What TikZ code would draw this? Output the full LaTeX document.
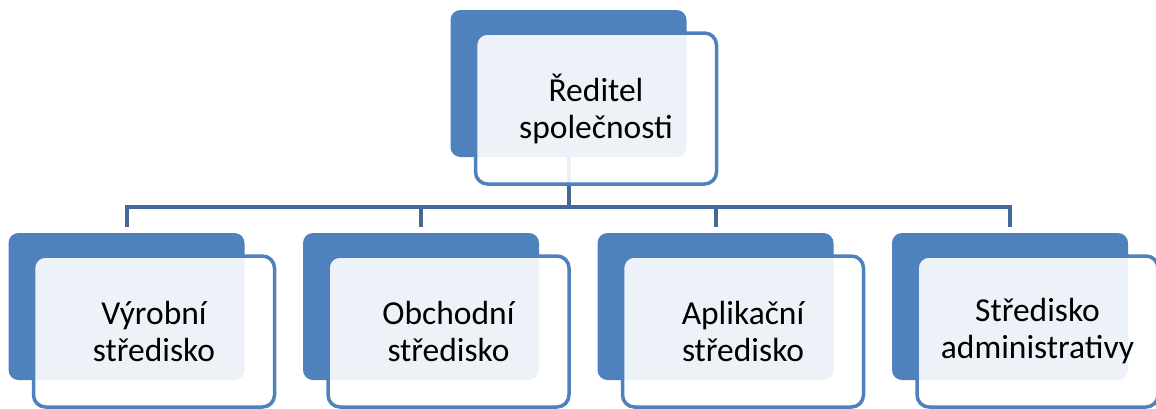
\documentclass[tikz,border=0pt]{standalone}
\usepackage[rgb]{xcolor}
\usepackage{fontspec}
\setmainfont{Carlito}
\usepackage{tikz}
\usetikzlibrary{positioning}

\definecolor{backblue}{HTML}{4F81BD}
\definecolor{lineblue}{HTML}{41699A}

\begin{document}
\begin{tikzpicture}[x=1pt, y=-1pt,
  backbox/.style={fill=backblue, rounded corners=10pt, minimum width=236pt, minimum height=147pt, inner sep=0pt},
  frontbox/.style={draw=backblue, line width=3.5pt, fill=white, fill opacity=0.9, text opacity=1, rounded corners=12pt,
    minimum width=241pt, minimum height=151pt, align=center, font=\fontsize{33.5}{37}\selectfont},
  conn/.style={draw=lineblue, line width=4pt}]

\useasboundingbox (0,0) rectangle (1156,408);

% Back boxes
\node[backbox] (dirB) at (568.5,83.5) {};
\node[backbox] (vyrB) at (126.5,306.5) {};
\node[backbox] (obchB) at (421,306.5) {};
\node[backbox] (aplB) at (715.5,306.5) {};
\node[backbox] (admB) at (1010,306.5) {};

% Connectors
\coordinate (hub) at (568.5,207);
\draw[conn] (dirB.south) -- (hub);
\draw[conn] (hub) -| ([yshift=6pt]vyrB.north);
\draw[conn] (hub) -| ([yshift=6pt]obchB.north);
\draw[conn] (hub) -| ([yshift=6pt]aplB.north);
\draw[conn] (hub) -| ([yshift=6pt]admB.north);

% Front boxes
\node[frontbox] (dir) at ([shift={(27.5,25)}]dirB.center) {Ředitel\\společnosti};
\node[frontbox] (vyr) at ([shift={(27.5,25)}]vyrB.center) {Výrobní\\středisko};
\node[frontbox] (obch) at ([shift={(27.5,25)}]obchB.center) {Obchodní\\středisko};
\node[frontbox] (apl) at ([shift={(27.5,25)}]aplB.center) {Aplikační\\středisko};
\node[frontbox] (adm) at ([shift={(27.5,25)}]admB.center) {Středisko\\administrativy};

\end{tikzpicture}
\end{document}
